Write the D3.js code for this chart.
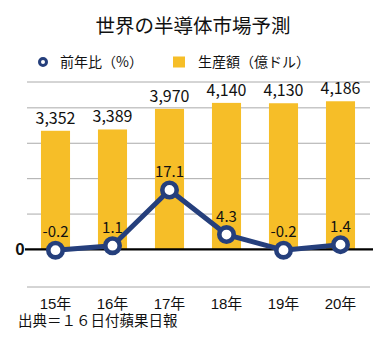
<!DOCTYPE html>
<html><head><meta charset="utf-8">
<script src="https://cdn.jsdelivr.net/npm/d3@7"></script>
<style>body{margin:0;background:#fff}svg{display:block}text{font-family:"Noto Sans CJK JP","Noto Sans",sans-serif;fill:#111}
.lat{font-family:"Liberation Sans","Noto Sans CJK JP",sans-serif}</style>
</head><body>
<script>
const categories = ["15年","16年","17年","18年","19年","20年"];
const production = [3352, 3389, 3970, 4140, 4130, 4186];
const growth = [-0.2, 1.1, 17.1, 4.3, -0.2, 1.4];
const productionLabels = ["3,352","3,389","3,970","4,140","4,130","4,186"];
const gridValues = [1000, 2000, 3000, 4000];
const title = "世界の半導体市場予測";
const legendLine = "前年比（%）";
const legendBar = "生産額（億ドル）";
const source = "出典＝１６日付蘋果日報";

const W = 387, H = 343;
const navy = "#253f7c", gold = "#f6be28";
const svg = d3.select("body").append("svg").attr("width", W).attr("height", H);

const x = d3.scaleBand().domain(categories).range([27, 369]).paddingInner(0.49).paddingOuter(0.245);
const yBar = d3.scaleLinear().domain([-1060, 4730]).range([287, 82]);
const yLine = d3.scaleLinear().domain([0, 17.1]).range([249.5, 190]);

// title
svg.append("text").attr("x", 193).attr("y", 33).attr("text-anchor", "middle")
  .style("font-size", "19.5px").text(title);

// legend
const lg = svg.append("g");
lg.append("circle").attr("cx", 43).attr("cy", 62).attr("r", 3.5)
  .attr("fill", "#fff").attr("stroke", navy).attr("stroke-width", 3);
lg.append("text").attr("x", 60).attr("y", 67).style("font-size", "14px").text(legendLine);
lg.append("rect").attr("x", 173).attr("y", 56.5).attr("width", 12).attr("height", 11).attr("fill", gold);
lg.append("text").attr("x", 198).attr("y", 67).style("font-size", "14px").text(legendBar);

// top & bottom border lines
svg.append("line").attr("x1", 27).attr("x2", 370).attr("y1", yBar(4730)).attr("y2", yBar(4730))
  .attr("stroke", "#aaa").attr("stroke-width", 1);
svg.append("line").attr("x1", 27).attr("x2", 370).attr("y1", yBar(-1060)).attr("y2", yBar(-1060))
  .attr("stroke", "#aaa").attr("stroke-width", 1);

// gridlines
svg.append("g").selectAll("line").data(gridValues).join("line")
  .attr("x1", 27).attr("x2", 370).attr("y1", d => yBar(d)).attr("y2", d => yBar(d))
  .attr("stroke", "#aaa").attr("stroke-width", 1);

// bars
svg.append("g").selectAll("rect").data(production).join("rect")
  .attr("x", (d, i) => x(categories[i])).attr("width", x.bandwidth())
  .attr("y", d => yBar(d)).attr("height", d => yBar(0) - yBar(d)).attr("fill", gold);

// bar labels
svg.append("g").selectAll("text").data(production).join("text")
  .attr("x", (d, i) => x(categories[i]) + x.bandwidth() / 2).attr("y", d => yBar(d) - 7)
  .attr("text-anchor", "middle").style("font-size", "16px")
  .text((d, i) => productionLabels[i]);

// zero line
svg.append("line").attr("x1", 25).attr("x2", 373).attr("y1", yBar(0)).attr("y2", yBar(0))
  .attr("stroke", "#000").attr("stroke-width", 2.2);
svg.append("text").attr("x", 20).attr("y", yBar(0) + 6).attr("text-anchor", "middle")
  .style("font-size", "16px").style("font-weight", "bold").text("0");

// line
const cx = i => x(categories[i]) + x.bandwidth() / 2;
svg.append("path").datum(growth)
  .attr("d", d3.line().x((d, i) => cx(i)).y(d => yLine(d)))
  .attr("fill", "none").attr("stroke", navy).attr("stroke-width", 5).attr("stroke-linejoin", "round");
svg.append("g").selectAll("circle").data(growth).join("circle")
  .attr("cx", (d, i) => cx(i)).attr("cy", d => yLine(d)).attr("r", 7.2)
  .attr("fill", "#fff").attr("stroke", navy).attr("stroke-width", 4.6);
svg.append("g").selectAll("text").data(growth).join("text")
  .attr("x", (d, i) => cx(i)).attr("y", d => yLine(d) - 13)
  .attr("text-anchor", "middle").style("font-size", "15px")
  .text(d => d.toFixed(1));

// x labels
svg.append("g").selectAll("text").data(categories).join("text").attr("class", "lat")
  .attr("x", d => x(d) + x.bandwidth() / 2).attr("y", 308.5)
  .attr("text-anchor", "middle").style("font-size", "15px").text(d => d);

// source
svg.append("text").attr("class", "lat").attr("x", 18).attr("y", 325.5)
  .style("font-size", "14.5px").text(source);
</script>
</body></html>
